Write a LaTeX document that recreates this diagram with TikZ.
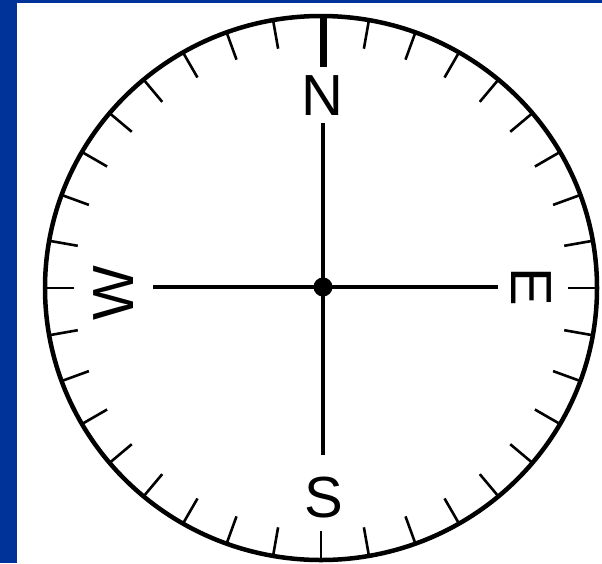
\documentclass[tikz,border=0pt]{standalone}
\usepackage{fontspec}
\usetikzlibrary{calc}
\setmainfont{Liberation Sans}
\definecolor{slideblue}{RGB}{0,51,153}
\tikzset{
  letter/.style={inner sep=0pt, font=\fontsize{58}{60}\selectfont},
  rim/.style={line width=4.5pt},
  tick/.style={line width=2.6pt},
  northtick/.style={line width=7pt},
  cross/.style={line width=3.5pt},
  hub/.style={circle, fill=black, inner sep=0pt, minimum size=19pt}
}
\begin{document}
\begin{tikzpicture}[x=1pt,y=-1pt]
\useasboundingbox (0,0) rectangle (602,563);
\fill[slideblue] (0,0) rectangle (602,563);
\fill[white] (17,3) rectangle (602,563);
% dial rim
\coordinate (C) at (321,288);
\draw[rim] (C) ellipse [x radius=276, y radius=272];
% ticks every 10 degrees
\foreach \a in {0,10,...,350}{
  \ifnum\a=90\relax\else
  \draw[tick] ($(C)+({276*cos(\a)},{-272*sin(\a)})$) -- ($(C)+({247*cos(\a)},{-243*sin(\a)})$);
  \fi
}
\draw[northtick] ($(C)+(2.5,-272)$) coordinate (nt1) -- ($(C)+(2.5,-221)$) coordinate (nt2);
% letters
\node[letter] (nlab) at (322.5,96) {N};
\node[letter] (slab) at (323.5,498) {S};
\node[letter, rotate=90] (wlab) at (113.5,293.5) {W};
\node[letter, rotate=-90] (elab) at (531,287) {E};
% cross
\coordinate (vt) at (323,123);
\coordinate (vb) at (323,455);
\coordinate (hl) at (153,287);
\coordinate (hr) at (498,287);
\draw[cross] (vt) -- (vb);
\draw[cross] (hl) -- (hr);
\node[hub] (hubdot) at (323,287) {};
\end{tikzpicture}
\end{document}
